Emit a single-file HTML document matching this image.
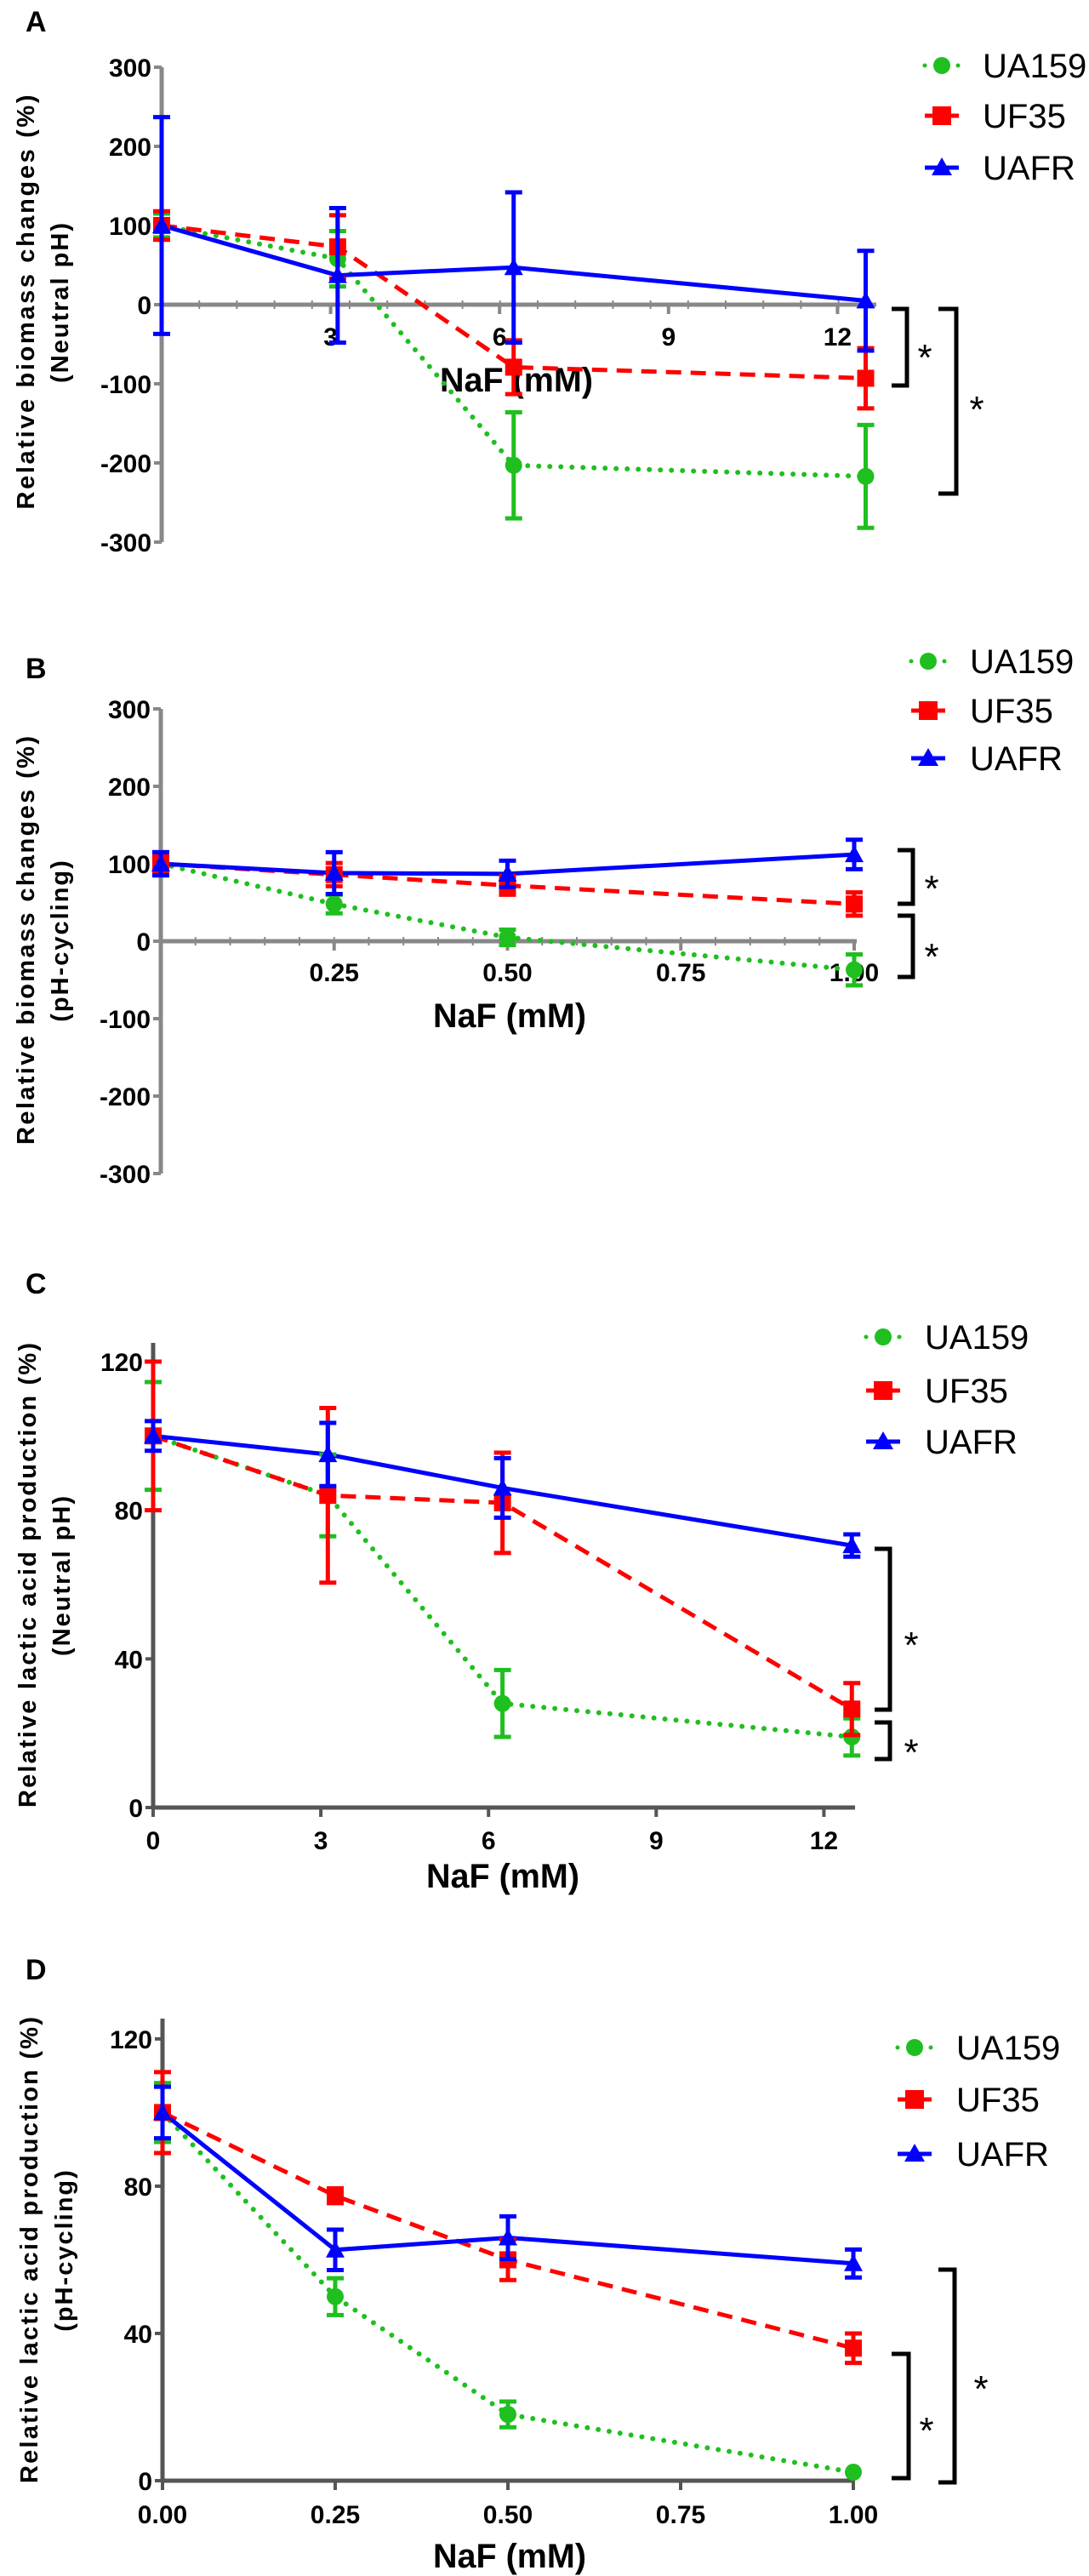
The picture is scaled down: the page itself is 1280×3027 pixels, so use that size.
<!DOCTYPE html>
<html><head><meta charset="utf-8"><style>
html,body{margin:0;padding:0;background:#fff;}
svg{display:block;font-family:"Liberation Sans",sans-serif;}
</style></head><body>
<svg id="fig" width="1280" height="3027" viewBox="0 0 1280 3027" xmlns="http://www.w3.org/2000/svg"></svg>
<script>
// ---- Panel A data (Neutral pH biomass) ----
const aX = [0, 3.125, 6.25, 12.5];
const aUA159 = [100, 58, -203, -217];
const aUA159Err = [15, 35, 67, 65];
const aUF35 = [100, 73, -79, -93];
const aUF35Err = [18, 40, 34, 38];
const aUAFR = [100, 37, 47, 5];
const aUAFRErr = [137, 85, 95, 63];
const aXTicks = [3, 6, 9, 12];
const aYTicks = [-300, -200, -100, 0, 100, 200, 300];
// ---- Panel B data (pH-cycling biomass) ----
const bX = [0, 0.25, 0.5, 1.0];
const bUA159 = [100, 48, 5, -37];
const bUA159Err = [15, 12, 10, 20];
const bUF35 = [100, 86, 72, 48];
const bUF35Err = [12, 15, 12, 15];
const bUAFR = [100, 88, 87, 112];
const bUAFRErr = [15, 27, 17, 19];
const bXTicks = [0.25, 0.5, 0.75, 1.0];
const bXTickLabels = ["0.25", "0.50", "0.75", "1.00"];
const bYTicks = [-300, -200, -100, 0, 100, 200, 300];
// ---- Panel C data (Neutral pH lactic acid) ----
const cX = [0, 3.125, 6.25, 12.5];
const cUA159 = [100, 84, 28, 19];
const cUA159Err = [14.5, 11, 9, 5];
const cUF35 = [100, 84, 82, 26.5];
const cUF35Err = [20, 23.5, 13.5, 7];
const cUAFR = [100, 95, 86, 70.5];
const cUAFRErr = [4, 8.5, 8, 3];
const cXTicks = [0, 3, 6, 9, 12];
const cYTicks = [0, 40, 80, 120];
// ---- Panel D data (pH-cycling lactic acid) ----
const dX = [0, 0.25, 0.5, 1.0];
const dUA159 = [100, 50, 18, 2.3];
const dUA159Err = [8, 5, 3.5, 0];
const dUF35 = [100, 77.4, 60, 36];
const dUF35Err = [11, 2, 5.5, 4];
const dUAFR = [100, 62.7, 66, 59];
const dUAFRErr = [7, 5.5, 5.8, 3.8];
const dXTicks = [0, 0.25, 0.5, 0.75, 1.0];
const dXTickLabels = ["0.00", "0.25", "0.50", "0.75", "1.00"];
const dYTicks = [0, 40, 80, 120];
const seriesNames = ["UA159", "UF35", "UAFR"];

const NS = "http://www.w3.org/2000/svg";
const svg = document.getElementById("fig");
function mk(tag, attrs, parent) {
  const e = document.createElementNS(NS, tag);
  for (const k in attrs) e.setAttribute(k, attrs[k]);
  (parent || svg).appendChild(e);
  return e;
}
const COLORS = ["#1fbf1f", "#ff0000", "#0000ff"];
const DASH = ["0 13", "18 11", ""];

function panel(cfg) {
  const g = mk("g", {});
  
  
  const xs = v => cfg.x0 + (v - cfg.xmin) * cfg.xs;
  const ys = v => cfg.y0 - v * cfg.ys;
  const L = mk("text", {x: 30, y: cfg.letterY, "font-size": 34, "font-weight": "bold"}, g);
  L.textContent = cfg.id;
  
  
  const t1 = mk("text", {x: 0, y: 0, "font-size": 29, "font-weight": "bold", "text-anchor": "middle",
    transform: `translate(${cfg.tx1},${cfg.tcy}) rotate(-90)`, textLength: cfg.tlen, lengthAdjust: "spacing"}, g);
  t1.textContent = cfg.title1;
  
  
  const t2 = mk("text", {x: 0, y: 0, "font-size": 29, "font-weight": "bold", "text-anchor": "middle",
    transform: `translate(${cfg.tx2},${cfg.tcy}) rotate(-90)`, "letter-spacing": 2}, g);
  t2.textContent = cfg.title2;
  
  
  const yAxis = mk("line", {x1: cfg.x0, x2: cfg.x0, y1: ys(cfg.ymax), y2: ys(cfg.ymin), stroke: cfg.axisColor, "stroke-width": 5}, g);
  
  
  if (cfg.yTop) yAxis.setAttribute("y1", cfg.yTop);
  const xAxis = mk("line", {x1: cfg.x0, x2: cfg.xEnd, y1: ys(0), y2: ys(0), stroke: cfg.axisColor, "stroke-width": 5}, g);
  
  
  cfg.yTicks.forEach(v => {
    mk("line", {x1: cfg.x0 - 9, x2: cfg.x0, y1: ys(v), y2: ys(v), stroke: cfg.axisColor, "stroke-width": 4}, g);
    const t = mk("text", {x: cfg.x0 - 12, y: ys(v) + 11, "font-size": 30, "font-weight": "bold", "text-anchor": "end"}, g);
    t.textContent = v;
    
    
  });
  if (cfg.minor) {
    for (let i = 1; i < cfg.minor.n; i++) {
      const px = cfg.x0 + i * cfg.minor.step;
      mk("line", {x1: px, x2: px, y1: ys(0) - 5, y2: ys(0) + 5, stroke: cfg.axisColor, "stroke-width": 2}, g);
    }
  }
  cfg.xTicks.forEach((v, i) => {
    mk("line", {x1: xs(v), x2: xs(v), y1: ys(0), y2: ys(0) + 11, stroke: cfg.axisColor, "stroke-width": 4}, g);
    const t = mk("text", {x: xs(v), y: cfg.xLabelY, "font-size": 30, "font-weight": "bold", "text-anchor": "middle"}, g);
    t.textContent = cfg.xLabels ? cfg.xLabels[i] : v;
    
    
  });
  const xt = mk("text", {x: cfg.xTitleX, y: cfg.xTitleY, "font-size": 40, "text-anchor": "middle", "font-weight": "bold", textLength: 180, lengthAdjust: "spacingAndGlyphs"}, g);
  xt.textContent = "NaF (mM)";
  
  
  cfg.series.forEach((s, si) => {
    const sg = mk("g", {}, g);
    
    
    const pts = cfg.xv.map((x, i) => xs(x) + "," + ys(s.v[i])).join(" ");
    const pl = mk("polyline", {points: pts, fill: "none", stroke: COLORS[si], "stroke-width": si === 0 ? 6 : 5,
      "stroke-dasharray": DASH[si], "stroke-linecap": si === 0 ? "round" : "butt"}, sg);
    
    
  });
  cfg.series.forEach((s, si) => {
    const sg = g;
    cfg.xv.forEach((x, i) => {
      const px = xs(x), v = s.v[i], e = s.e[i];
      if (e > 0) {
        const eb = mk("path", {d: `M${px},${ys(v + e)}V${ys(v - e)}M${px - 10},${ys(v + e)}H${px + 10}M${px - 10},${ys(v - e)}H${px + 10}`,
          stroke: COLORS[si], "stroke-width": 5, fill: "none"}, sg);
        
        
      }
      let m;
      if (si === 0) m = mk("circle", {cx: px, cy: ys(v), r: 10, fill: COLORS[0]}, sg);
      else if (si === 1) m = mk("rect", {x: px - 10, y: ys(v) - 10, width: 20, height: 20, fill: COLORS[1]}, sg);
      else m = mk("polygon", {points: `${px},${ys(v) - 11} ${px - 11},${ys(v) + 9} ${px + 11},${ys(v) + 9}`, fill: COLORS[2]}, sg);
      
      
    });
  });
  cfg.legY.forEach((ly, si) => {
    const lg = mk("g", {}, g);
    
    
    const mx = cfg.legX;
    mk("line", {x1: mx - 20, x2: mx + 20, y1: ly, y2: ly, stroke: COLORS[si], "stroke-width": 5,
      "stroke-dasharray": DASH[si], "stroke-linecap": si === 0 ? "round" : "butt"}, lg);
    if (si === 0) mk("circle", {cx: mx, cy: ly, r: 10, fill: COLORS[0]}, lg);
    else if (si === 1) mk("rect", {x: mx - 11, y: ly - 11, width: 22, height: 22, fill: COLORS[1]}, lg);
    else mk("polygon", {points: `${mx},${ly - 12} ${mx - 12},${ly + 9} ${mx + 12},${ly + 9}`, fill: COLORS[2]}, lg);
    const t = mk("text", {x: cfg.legTX, y: ly + 14, "font-size": 40}, lg);
    t.textContent = seriesNames[si];
  });
  cfg.brackets.forEach(b => {
    const bg = mk("g", {}, g);
    
    
    mk("path", {d: `M${b.x1},${b.y1}H${b.x2}V${b.y2}H${b.x1}`, stroke: "#000", "stroke-width": 5, fill: "none"}, bg);
    const t = mk("text", {x: b.sx, y: b.sy + 26, "font-size": 44, "text-anchor": "middle"}, bg);
    t.textContent = "*";
  });
}

panel({id: "A", letterY: 37, x0: 190, xmin: 0, xs: 66.2, y0: 358, ys: 0.93, ymin: -300, ymax: 300, xEnd: 1030,
  axisColor: "#888", yTicks: aYTicks, xTicks: aXTicks, xLabelY: 406, xTitleX: 607, xTitleY: 460,
  minor: {n: 19, step: 44.2},
  title1: "Relative biomass changes (%)", title2: "(Neutral pH)", tx1: 40, tx2: 80, tcy: 355, tlen: 487,
  xv: aX, series: [{v: aUA159, e: aUA159Err}, {v: aUF35, e: aUF35Err}, {v: aUAFR, e: aUAFRErr}],
  legX: 1107, legTX: 1155, legY: [77, 136, 197],
  brackets: [{x1: 1048, x2: 1066, y1: 363, y2: 453, sx: 1087, sy: 409}, {x1: 1103, x2: 1124, y1: 363, y2: 580, sx: 1148, sy: 470}]});
panel({id: "B", letterY: 797, x0: 189, xmin: 0, xs: 815, y0: 1106, ys: 0.91, ymin: -300, ymax: 300, xEnd: 1007,
  axisColor: "#888", yTicks: bYTicks, xTicks: bXTicks, xLabels: bXTickLabels, xLabelY: 1153, xTitleX: 599, xTitleY: 1207,
  minor: {n: 20, step: 40.75},
  title1: "Relative biomass changes (%)", title2: "(pH-cycling)", tx1: 40, tx2: 80, tcy: 1105, tlen: 480,
  xv: bX, series: [{v: bUA159, e: bUA159Err}, {v: bUF35, e: bUF35Err}, {v: bUAFR, e: bUAFRErr}],
  legX: 1091, legTX: 1140, legY: [777, 835, 891],
  brackets: [{x1: 1055, x2: 1073, y1: 999, y2: 1062, sx: 1095, sy: 1033}, {x1: 1055, x2: 1073, y1: 1076, y2: 1148, sx: 1095, sy: 1113}]});
panel({id: "C", letterY: 1520, x0: 180, xmin: 0, xs: 65.7, y0: 2124, ys: 4.367, ymin: 0, ymax: 120, yTop: 1578, xEnd: 1005,
  axisColor: "#555", yTicks: cYTicks, xTicks: cXTicks, xLabelY: 2173, xTitleX: 591, xTitleY: 2218,
  title1: "Relative lactic acid production (%)", title2: "(Neutral pH)", tx1: 42, tx2: 82, tcy: 1851, tlen: 546,
  xv: cX, series: [{v: cUA159, e: cUA159Err}, {v: cUF35, e: cUF35Err}, {v: cUAFR, e: cUAFRErr}],
  legX: 1038, legTX: 1087, legY: [1571, 1634, 1694],
  brackets: [{x1: 1028, x2: 1046, y1: 1820, y2: 2009, sx: 1071, sy: 1922}, {x1: 1028, x2: 1046, y1: 2024, y2: 2067, sx: 1071, sy: 2048}]});
panel({id: "D", letterY: 2326, x0: 191, xmin: 0, xs: 812, y0: 2915, ys: 4.326, ymin: 0, ymax: 120, yTop: 2372, xEnd: 1005,
  axisColor: "#555", yTicks: dYTicks, xTicks: dXTicks, xLabels: dXTickLabels, xLabelY: 2965, xTitleX: 599, xTitleY: 3017,
  title1: "Relative lactic acid production (%)", title2: "(pH-cycling)", tx1: 44, tx2: 85, tcy: 2644, tlen: 548,
  xv: dX, series: [{v: dUA159, e: dUA159Err}, {v: dUF35, e: dUF35Err}, {v: dUAFR, e: dUAFRErr}],
  legX: 1075, legTX: 1124, legY: [2406, 2467, 2531],
  brackets: [{x1: 1048, x2: 1068, y1: 2766, y2: 2912, sx: 1089, sy: 2845}, {x1: 1103, x2: 1122, y1: 2667, y2: 2917, sx: 1153, sy: 2796}]});
</script>
</body></html>
